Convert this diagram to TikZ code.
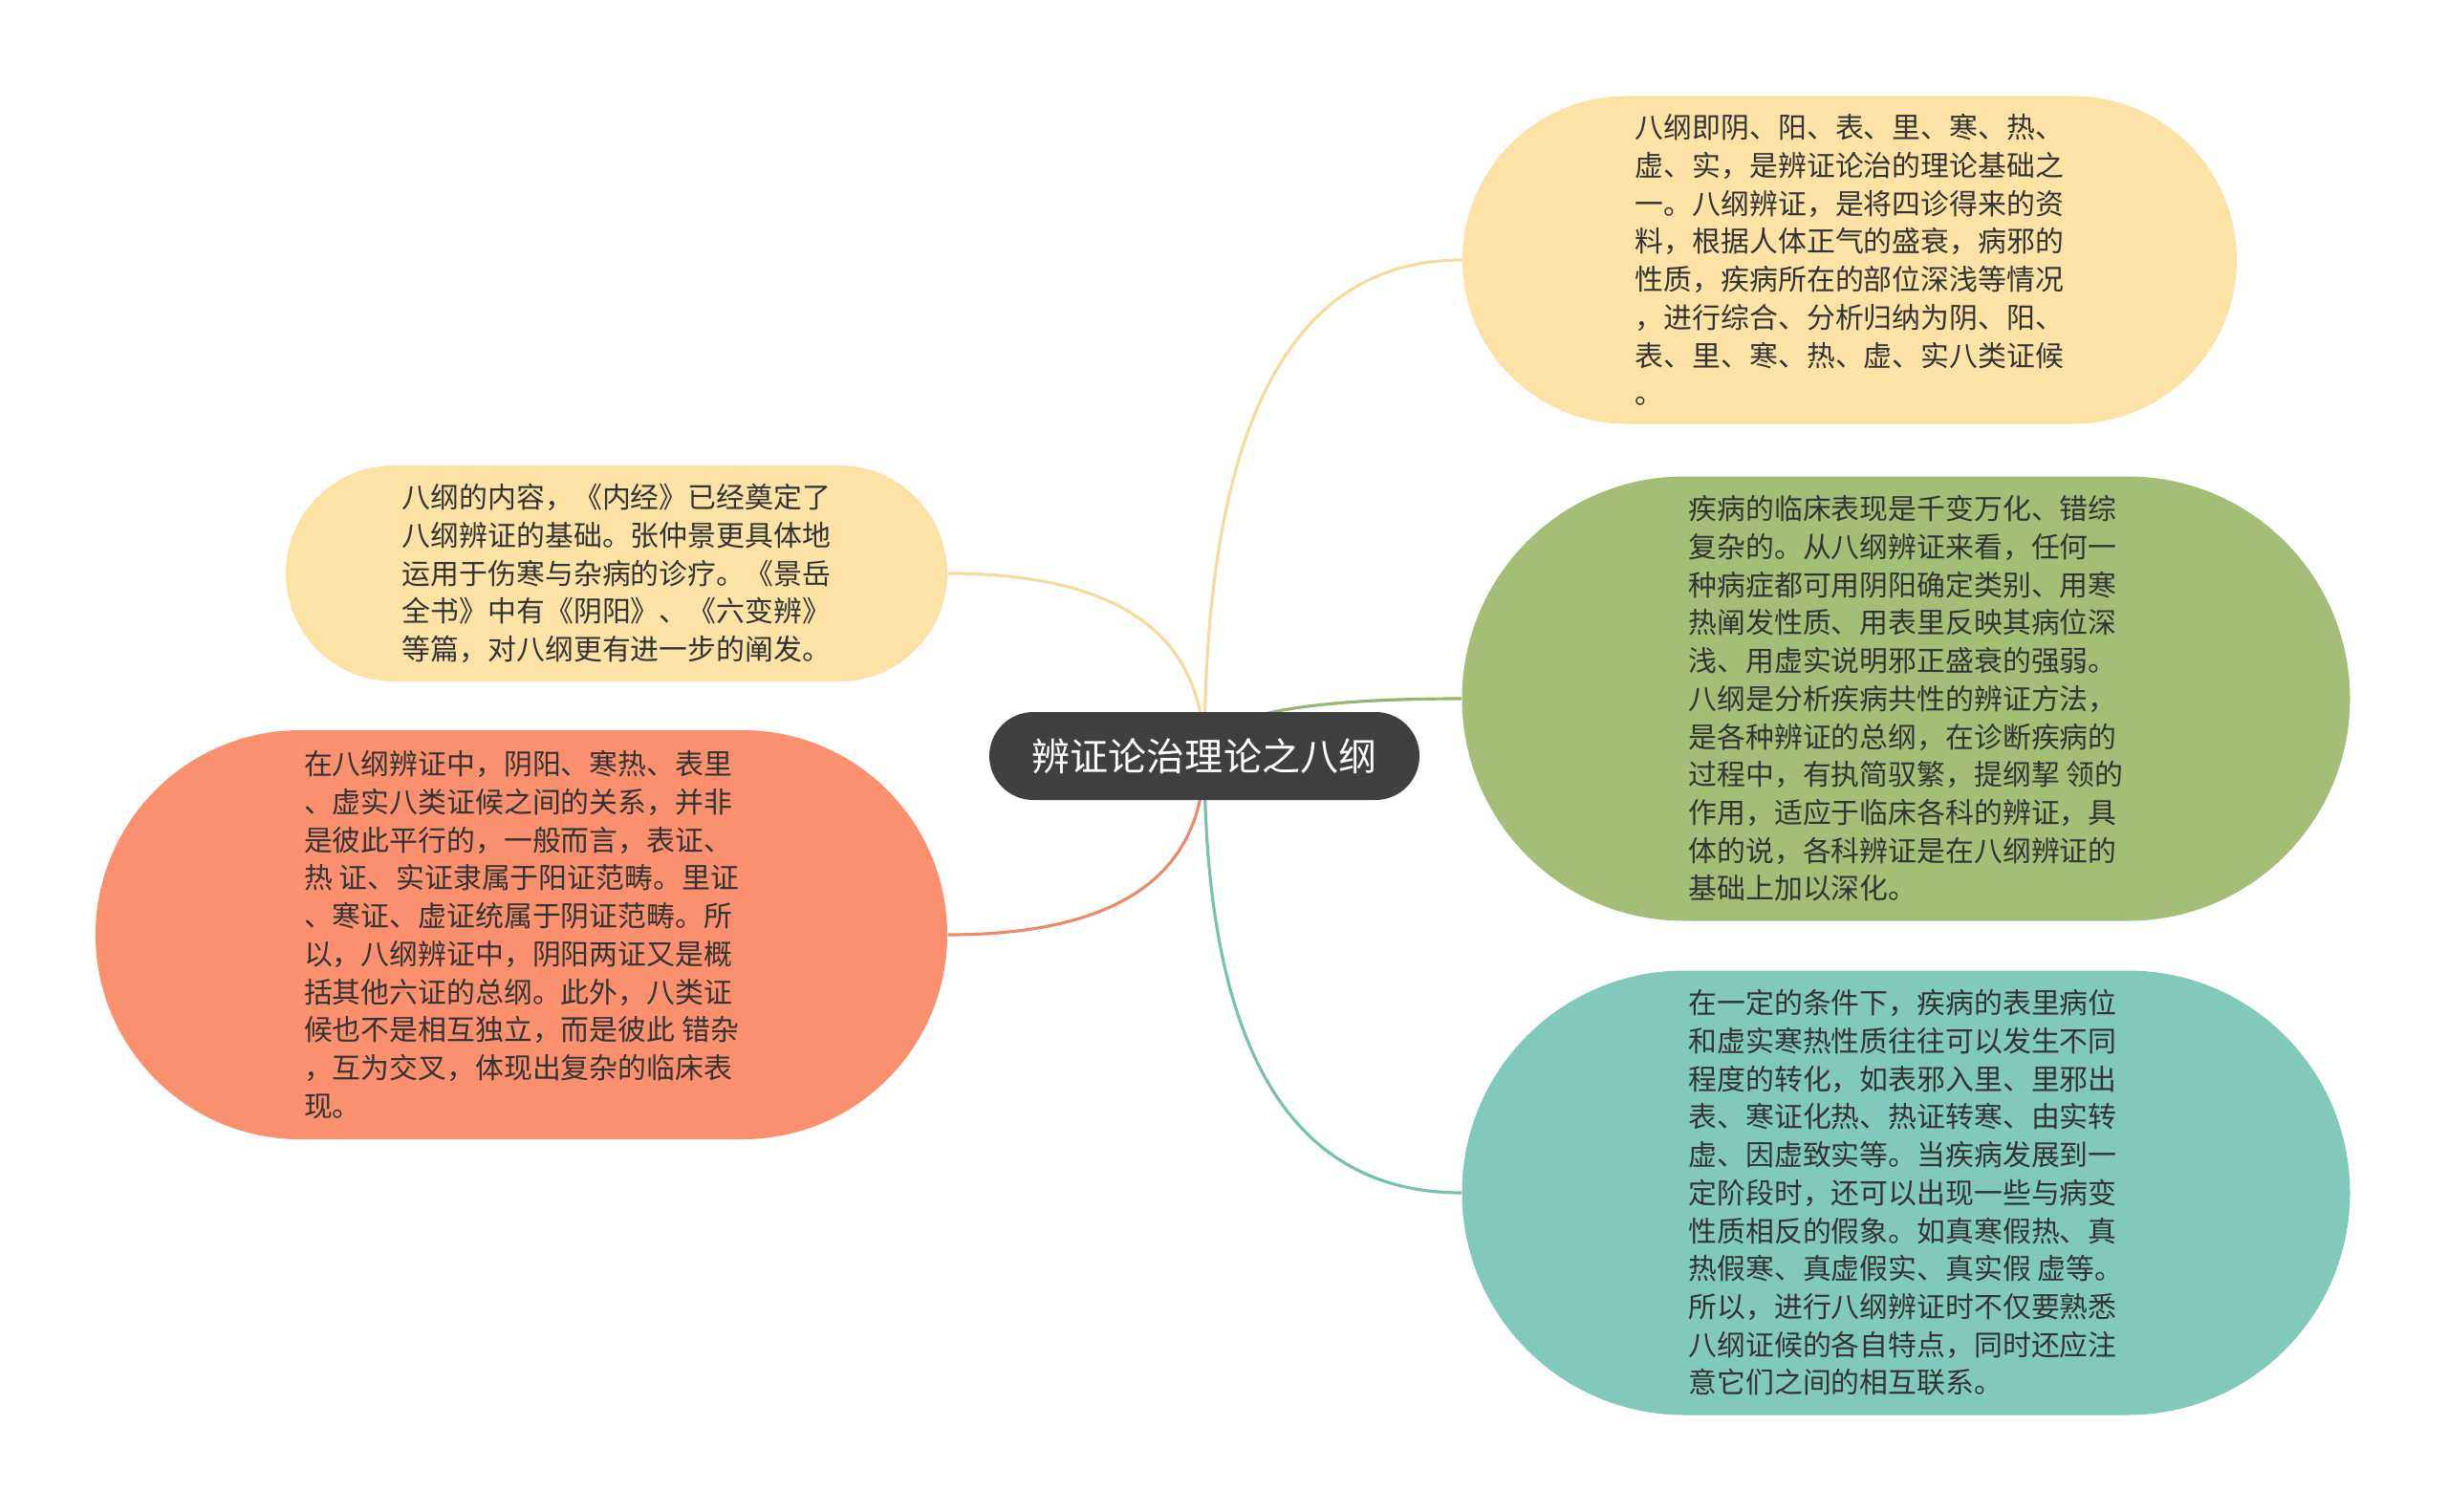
\documentclass[tikz,border=0pt]{standalone}
\usepackage{fontspec}
\newfontfamily\cjk{Noto Sans CJK SC}
\usetikzlibrary{shapes.misc,calc,backgrounds}
\definecolor{rootgray}{HTML}{404040}
\definecolor{txtgray}{HTML}{333333}
\definecolor{yel}{HTML}{FDE2A6}
\definecolor{grn}{HTML}{A4BE78}
\definecolor{tea}{HTML}{80C9BB}
\definecolor{sal}{HTML}{FA906E}
\definecolor{yelline}{HTML}{F7DB9E}
\definecolor{grnline}{HTML}{9AB56E}
\definecolor{tealine}{HTML}{74C2B2}
\definecolor{salline}{HTML}{EC8A6A}
\begin{document}
\begin{tikzpicture}[
  root/.style={rounded rectangle,fill=rootgray,text=white,inner sep=0pt,
    minimum width=4.50cm,minimum height=0.92cm,
    font=\cjk\fontsize{11.4pt}{14pt}\selectfont},
  leaf/.style={rounded rectangle,inner sep=0pt,align=left,text=txtgray,
    font=\cjk\fontsize{8.5pt}{11.3pt}\selectfont},
  branch/.style={line width=0.9pt}]
\useasboundingbox (0,0) rectangle (25.60,-15.82);
\node[root] (root) at (12.60,-7.91) {辨证论治理论之八纲};
% right side
\node[leaf,fill=yel,minimum width=8.10cm,minimum height=3.43cm] (n1) at (19.35,-2.72)
  {八纲即阴、阳、表、里、寒、热、\\虚、实，是辨证论治的理论基础之\\一。八纲辨证，是将四诊得来的资\\料，根据人体正气的盛衰，病邪的\\性质，疾病所在的部位深浅等情况\\，进行综合、分析归纳为阴、阳、\\表、里、寒、热、虚、实八类证候\\。};
\node[leaf,fill=grn,minimum width=9.29cm,minimum height=4.65cm] (n2) at (19.94,-7.31)
  {疾病的临床表现是千变万化、错综\\复杂的。从八纲辨证来看，任何一\\种病症都可用阴阳确定类别、用寒\\热阐发性质、用表里反映其病位深\\浅、用虚实说明邪正盛衰的强弱。\\八纲是分析疾病共性的辨证方法，\\是各种辨证的总纲，在诊断疾病的\\过程中，有执简驭繁，提纲挈 领的\\作用，适应于临床各科的辨证，具\\体的说，各科辨证是在八纲辨证的\\基础上加以深化。};
\node[leaf,fill=tea,minimum width=9.29cm,minimum height=4.65cm] (n3) at (19.94,-12.48)
  {在一定的条件下，疾病的表里病位\\和虚实寒热性质往往可以发生不同\\程度的转化，如表邪入里、里邪出\\表、寒证化热、热证转寒、由实转\\虚、因虚致实等。当疾病发展到一\\定阶段时，还可以出现一些与病变\\性质相反的假象。如真寒假热、真\\热假寒、真虚假实、真实假 虚等。\\所以，进行八纲辨证时不仅要熟悉\\八纲证候的各自特点，同时还应注\\意它们之间的相互联系。};
% left side
\node[leaf,fill=yel,minimum width=6.92cm,minimum height=2.26cm] (n4) at (6.45,-6.00)
  {八纲的内容，《内经》已经奠定了\\八纲辨证的基础。张仲景更具体地\\运用于伤寒与杂病的诊疗。《景岳\\全书》中有《阴阳》、《六变辨》\\等篇，对八纲更有进一步的阐发。};
\node[leaf,fill=sal,minimum width=8.91cm,minimum height=4.28cm] (n5) at (5.455,-9.78)
  {在八纲辨证中，阴阳、寒热、表里\\、虚实八类证候之间的关系，并非\\是彼此平行的，一般而言，表证、\\热 证、实证隶属于阳证范畴。里证\\、寒证、虚证统属于阴证范畴。所\\以，八纲辨证中，阴阳两证又是概\\括其他六证的总纲。此外，八类证\\候也不是相互独立，而是彼此 错杂\\，互为交叉，体现出复杂的临床表\\现。};
\begin{scope}[on background layer]
\fill[white] (0,0) rectangle (25.60,-15.82);
\foreach \n/\a/\c in {n1/west/yelline,n2/west/grnline,n3/west/tealine,n4/east/yelline,n5/east/salline}
  \draw[branch,\c] (root.center) .. controls ($(root.center)!2/3!(root.center |- \n.\a)$)
    and ($(\n.\a)!2/3!(root.center |- \n.\a)$) .. (\n.\a);
\end{scope}
\end{tikzpicture}
\end{document}
